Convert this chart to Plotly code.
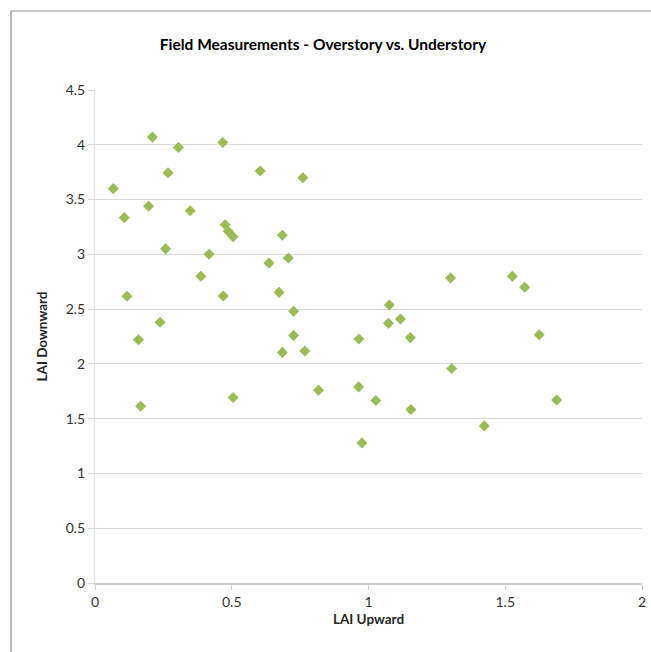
import plotly.graph_objects as go

lai_upward = [0.21, 0.305, 0.467, 0.267, 0.604, 0.067, 0.196, 0.107, 0.348, 0.476,
              0.487, 0.505, 0.258, 0.417, 0.636, 0.387, 0.117, 0.469, 0.238, 0.159,
              0.76, 0.685, 0.707, 0.673, 0.726, 1.076, 1.073, 1.117, 0.726, 0.965,
              1.153, 1.30, 0.685, 0.767, 0.817, 0.964, 1.027, 1.155, 0.976, 1.304,
              0.167, 0.505, 1.526, 1.571, 1.624, 1.688, 1.423]
lai_downward = [4.07, 3.975, 4.02, 3.745, 3.76, 3.60, 3.44, 3.335, 3.397, 3.27,
                3.21, 3.16, 3.05, 3.00, 2.92, 2.80, 2.617, 2.62, 2.38, 2.22,
                3.70, 3.175, 2.967, 2.653, 2.48, 2.537, 2.37, 2.41, 2.26, 2.227,
                2.24, 2.785, 2.105, 2.117, 1.76, 1.79, 1.666, 1.584, 1.279, 1.958,
                1.614, 1.694, 2.80, 2.70, 2.266, 1.67, 1.434]

x_ticks = [0, 0.5, 1, 1.5, 2]
y_ticks = [0, 0.5, 1, 1.5, 2, 2.5, 3, 3.5, 4, 4.5]

FONT = "Lato"
fig = go.Figure()
fig.add_trace(go.Scatter(
    x=lai_upward, y=lai_downward, mode="markers",
    marker=dict(symbol="diamond", size=8.5, color="#9BBB59", line=dict(width=0)),
    showlegend=False, hoverinfo="x+y",
))

L, R, T, B = 95, 9, 90, 69
W, H = 651, 652
pw = W - L - R
ph = H - T - B

fig.update_layout(
    width=W, height=H,
    margin=dict(l=L, r=R, t=T, b=B, autoexpand=False),
    paper_bgcolor="white", plot_bgcolor="white",
    font=dict(family=FONT, color="#595959", size=14),
    title=dict(text="<b>Field Measurements - Overstory vs. Understory</b>",
               x=(323 - L) / pw, xref="paper", xanchor="center",
               y=1 - 45 / H, yanchor="middle",
               font=dict(family=FONT, size=15.5, color="#000000")),
    xaxis=dict(range=[0, 2], tickvals=x_ticks, ticktext=[str(v) for v in x_ticks],
               automargin=False,
               showgrid=False, zeroline=False, showline=True, linecolor="#d0d0d0",
               linewidth=1.5, ticks="outside", ticklen=5, tickcolor="#d0d0d0",
               tickfont=dict(family=FONT, size=14, color="#333333"),
               title=dict(text="<b>LAI Upward</b>", standoff=6,
                          font=dict(family=FONT, size=13.5, color="#262626"))),
    yaxis=dict(range=[0, 4.5], tickvals=y_ticks, ticktext=[str(v) for v in y_ticks],
               automargin=False,
               showgrid=True, gridcolor="#dadada", gridwidth=1.2, zeroline=False,
               showline=True, linecolor="#e2e2e2", linewidth=1,
               ticks="outside", ticklen=6, tickcolor="#dadada",
               tickfont=dict(family=FONT, size=14, color="#333333"),
               title=dict(text="<b>LAI Downward</b>", standoff=14,
                          font=dict(family=FONT, size=13.5, color="#262626"))),
)

# outer chart border (left and top edges visible)
bx = (11 - L) / pw
by = 1 + (T - 11) / ph
fig.add_shape(type="line", xref="paper", yref="paper", x0=bx, x1=bx, y0=by, y1=-0.2,
              line=dict(color="#8c8c8c", width=1.2))
fig.add_shape(type="line", xref="paper", yref="paper", x0=bx, x1=1.05, y0=by, y1=by,
              line=dict(color="#8c8c8c", width=1.2))

fig.write_html("out.html")
